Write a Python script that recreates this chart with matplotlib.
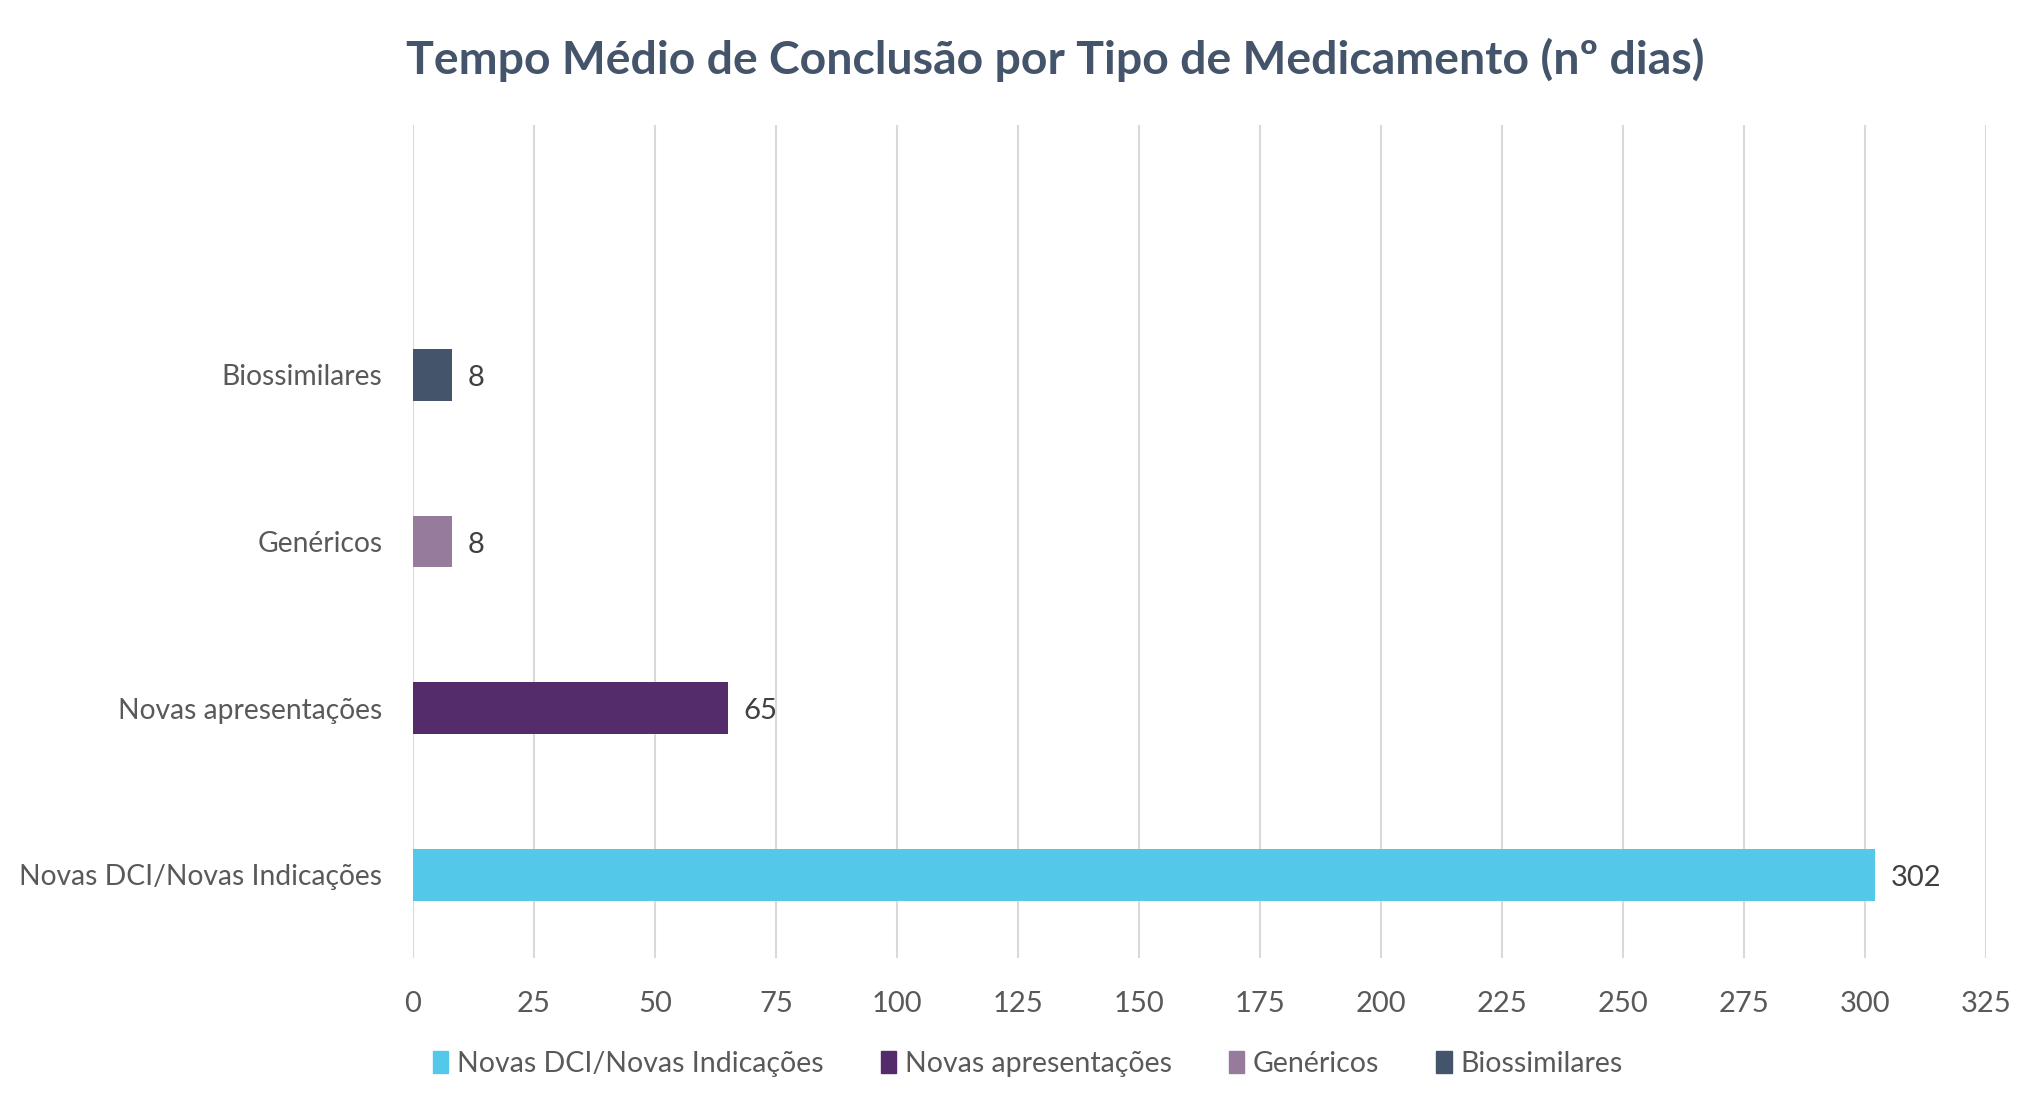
import matplotlib.pyplot as plt
from matplotlib.patches import Patch

categories = ["Novas DCI/Novas Indicações", "Novas apresentações", "Genéricos", "Biossimilares"]
values = [302, 65, 8, 8]
colors = ["#53C8E8", "#542C6C", "#977B9C", "#44546A"]
x_ticks = list(range(0, 326, 25))

plt.rcParams['font.family'] = ['Lato', 'DejaVu Sans']

fig = plt.figure(figsize=(20.25, 11.13), dpi=100)
ax = fig.add_axes([413 / 2025, 1 - 958 / 1113, (1986 - 413) / 2025, (958 - 125) / 1113])

ypos = list(range(len(categories)))
ax.barh(ypos, values, height=0.31, color=colors, zorder=3)
for y, v in zip(ypos, values):
    ax.text(v + 3.3, y - 0.02, str(v), va='center', ha='left', fontsize=21, color='#404040')

ax.set_xlim(0, 325)
ax.set_ylim(-0.5, 3.5 + 1)
ax.set_xticks(x_ticks)
ax.set_yticks(ypos)
ax.set_yticklabels(categories)
ax.tick_params(axis='both', length=0, labelsize=21, labelcolor='#595959')
ax.tick_params(axis='y', labelsize=20.3, pad=22)
ax.tick_params(axis='x', pad=24)
ax.grid(axis='x', color='#D9D9D9', linewidth=1.5, zorder=0)
for s in ax.spines.values():
    s.set_visible(False)

fig.text(1055 / 2025, 1 - 60 / 1113, "Tempo Médio de Conclusão por Tipo de Medicamento (nº dias)",
         ha='center', va='center', fontsize=33.4, fontweight='bold', color='#44546A')

handles = [Patch(color=c, label=l) for c, l in zip(colors, categories)]
fig.legend(handles=handles, loc='center', bbox_to_anchor=(0.5075, 1 - 1064 / 1113), ncol=4,
           frameon=False, fontsize=20.5, labelcolor='#595959', handlelength=0.55, handleheight=0.8,
           handletextpad=0.3, columnspacing=2.0)

fig.savefig("out.png", dpi=100)
